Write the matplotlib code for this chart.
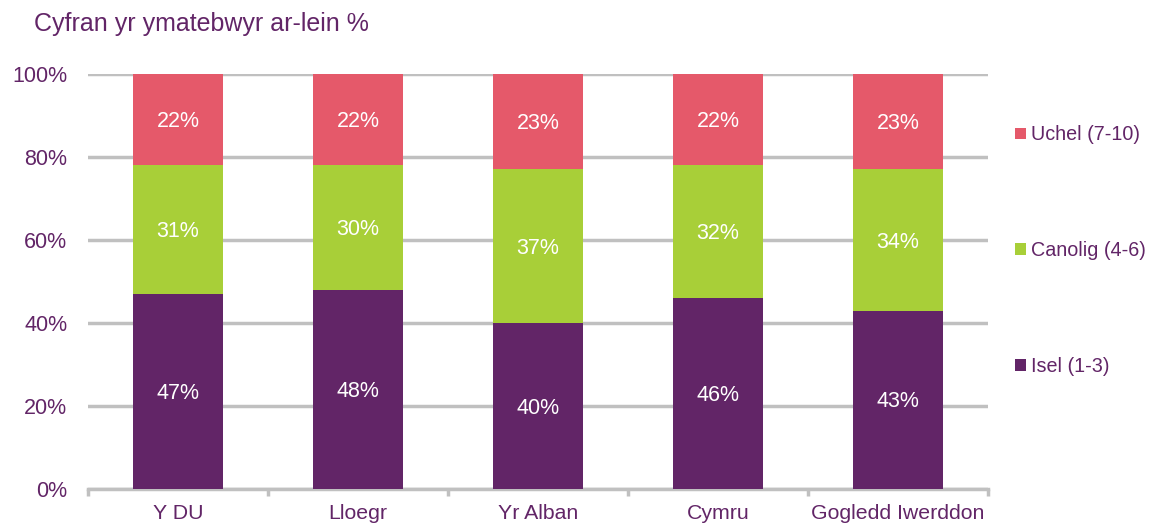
import matplotlib.pyplot as plt
import numpy as np

plt.rcParams['font.family'] = ['Liberation Sans', 'DejaVu Sans']

regions = ['Y DU', 'Lloegr', 'Yr Alban', 'Cymru', 'Gogledd Iwerddon']
isel = [47, 48, 40, 46, 43]
canolig = [31, 30, 37, 32, 34]
uchel = [22, 22, 23, 22, 23]
yticks = [0, 20, 40, 60, 80, 100]

purple = '#622567'
green = '#A8CF38'
red = '#E5596A'
grid = '#C0C0C0'

fig = plt.figure(figsize=(11.49, 5.25), dpi=100)
ax = fig.add_axes([0.0766, 0.0686, 0.7833, 0.7905])

x = np.arange(len(regions))
w = 0.495
b1 = ax.bar(x, isel, w, color=purple, label='Isel (1-3)', zorder=3)
b2 = ax.bar(x, canolig, w, bottom=isel, color=green, label='Canolig (4-6)', zorder=3)
bottom2 = np.array(isel) + np.array(canolig)
b3 = ax.bar(x, uchel, w, bottom=bottom2, color=red, label='Uchel (7-10)', zorder=3)

for bars, vals, bots in [(b1, isel, np.zeros(5)), (b2, canolig, isel), (b3, uchel, bottom2)]:
    for bar, v, b in zip(bars, vals, bots):
        ax.text(bar.get_x() + bar.get_width() / 2, b + v / 2 - 0.5, f'{v}%',
                ha='center', va='center', color='white', fontsize=15.5, zorder=4)

ax.set_xlim(-0.5, len(regions) - 0.5)
ax.set_ylim(0, 100)
ax.set_yticks(yticks)
ax.set_yticklabels([f'{t}%' for t in yticks])
ax.set_xticks(x)
ax.set_xticklabels(regions)
ax.set_xticks(np.arange(-0.5, len(regions)), minor=True)
ax.tick_params(axis='x', which='major', length=0, pad=11, labelsize=15.3, labelcolor=purple)
ax.tick_params(axis='x', which='minor', length=5, width=2.5, color=grid, direction='out')
ax.tick_params(axis='y', length=0, pad=15, labelsize=15.5, labelcolor=purple)

ax.yaxis.grid(True, color=grid, linewidth=2.5, zorder=0)
for s in ['top', 'right', 'left']:
    ax.spines[s].set_visible(False)
ax.spines['bottom'].set_color(grid)
ax.spines['bottom'].set_linewidth(2.5)

leg = ax.legend(handles=[b3, b2, b1], loc='upper left', bbox_to_anchor=(1.021, 0.895),
                frameon=False, fontsize=14.2, labelspacing=4.9, handlelength=0.55,
                handleheight=0.55, handletextpad=0.25, borderaxespad=0)
for t in leg.get_texts():
    t.set_color(purple)

fig.text(0.03, 0.955, 'Cyfran yr ymatebwyr ar-lein %', fontsize=18, color=purple,
         ha='left', va='center')

fig.savefig('out.png', dpi=100)
